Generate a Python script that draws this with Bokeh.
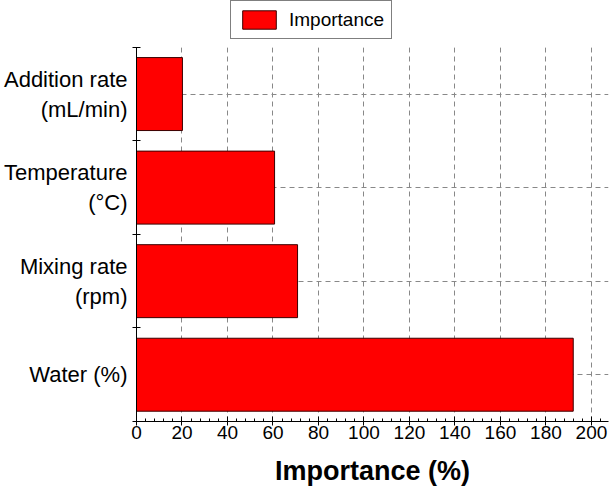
from bokeh.plotting import figure
from bokeh.models import (Range1d, FixedTicker, Legend, LegendItem, ColumnDataSource, BoxAnnotation)
from bokeh.embed import file_html
from bokeh.resources import INLINE

factors = ["Water (%)", "Mixing rate\n(rpm)", "Temperature\n(\u00b0C)", "Addition rate\n(mL/min)"]
importance = [192, 70.8, 60.7, 20.2]
x_ticks = [0, 20, 40, 60, 80, 100, 120, 140, 160, 180, 200]

ypos = list(range(len(factors)))
src = ColumnDataSource(dict(y=ypos, right=importance, left=[0] * len(ypos)))

ytop = len(factors) - 0.5
p = figure(width=610, height=499, output_backend="svg", toolbar_location=None,
           x_range=Range1d(0, 207.5), y_range=Range1d(-0.5, ytop + 0.5),
           min_border_left=135, min_border_right=2, min_border_top=0, min_border_bottom=78)
p.outline_line_color = None
p.background_fill_color = "white"

r = p.hbar(y="y", left="left", right="right", height=0.78, source=src,
           fill_color="#ff0000", line_color="#3a0000", line_width=1)

# x axis
p.xaxis.ticker = FixedTicker(ticks=x_ticks, minor_ticks=[v for v in range(0, 210, 4)])
p.xaxis.axis_label = "Importance (%)"
p.xaxis.axis_label_text_font = "Liberation Sans"
p.xaxis.axis_label_text_font_style = "bold"
p.xaxis.axis_label_text_font_size = "27px"
p.xaxis.axis_label_text_color = "black"
p.xaxis.axis_label_standoff = 14
p.xaxis.major_label_text_font = "Liberation Sans"
p.xaxis.major_label_text_font_size = "19px"
p.xaxis.major_label_text_color = "black"
p.xaxis.major_label_standoff = 0
p.xaxis.major_tick_in = 5
p.xaxis.major_tick_out = 4
p.xaxis.minor_tick_in = 3
p.xaxis.minor_tick_out = 0
p.xaxis.axis_line_color = "black"
p.xaxis.major_tick_line_color = "black"
p.xaxis.minor_tick_line_color = "black"

# y axis
p.yaxis.bounds = (-0.5, ytop)
p.yaxis.ticker = FixedTicker(ticks=ypos, minor_ticks=[i - 0.5 for i in range(len(factors) + 1)])
p.yaxis.major_label_overrides = {i: f for i, f in enumerate(factors)}
p.yaxis.major_label_text_font = "Liberation Sans"
p.yaxis.major_label_text_font_size = "22px"
p.yaxis.major_label_text_color = "black"
p.yaxis.major_label_standoff = 5
p.yaxis.major_tick_in = 0
p.yaxis.major_tick_out = 0
p.yaxis.minor_tick_in = 4
p.yaxis.minor_tick_out = 4
p.yaxis.axis_line_color = "black"
p.yaxis.minor_tick_line_color = "black"

# grids
p.xgrid.ticker = FixedTicker(ticks=x_ticks[1:])
p.xgrid.grid_line_color = "#888888"
p.xgrid.grid_line_dash = "5 4"
p.ygrid.ticker = FixedTicker(ticks=ypos)
p.ygrid.grid_line_color = "#888888"
p.ygrid.grid_line_dash = "5 4"

# blank band above the plotting area (legend sits there)
p.add_layout(BoxAnnotation(bottom=ytop, fill_color="white", fill_alpha=1.0,
                           line_color=None, level="underlay"))

legend = Legend(items=[LegendItem(label="Importance", renderers=[r])],
                location=(94, 382), orientation="horizontal",
                border_line_color="black", border_line_width=1,
                label_text_font="Liberation Sans", label_text_font_size="19px",
                label_text_color="black",
                glyph_width=42, glyph_height=23, padding=7, margin=0,
                label_standoff=9, spacing=0)
p.add_layout(legend, "center")

open("out.html", "w").write(file_html(p, INLINE))
